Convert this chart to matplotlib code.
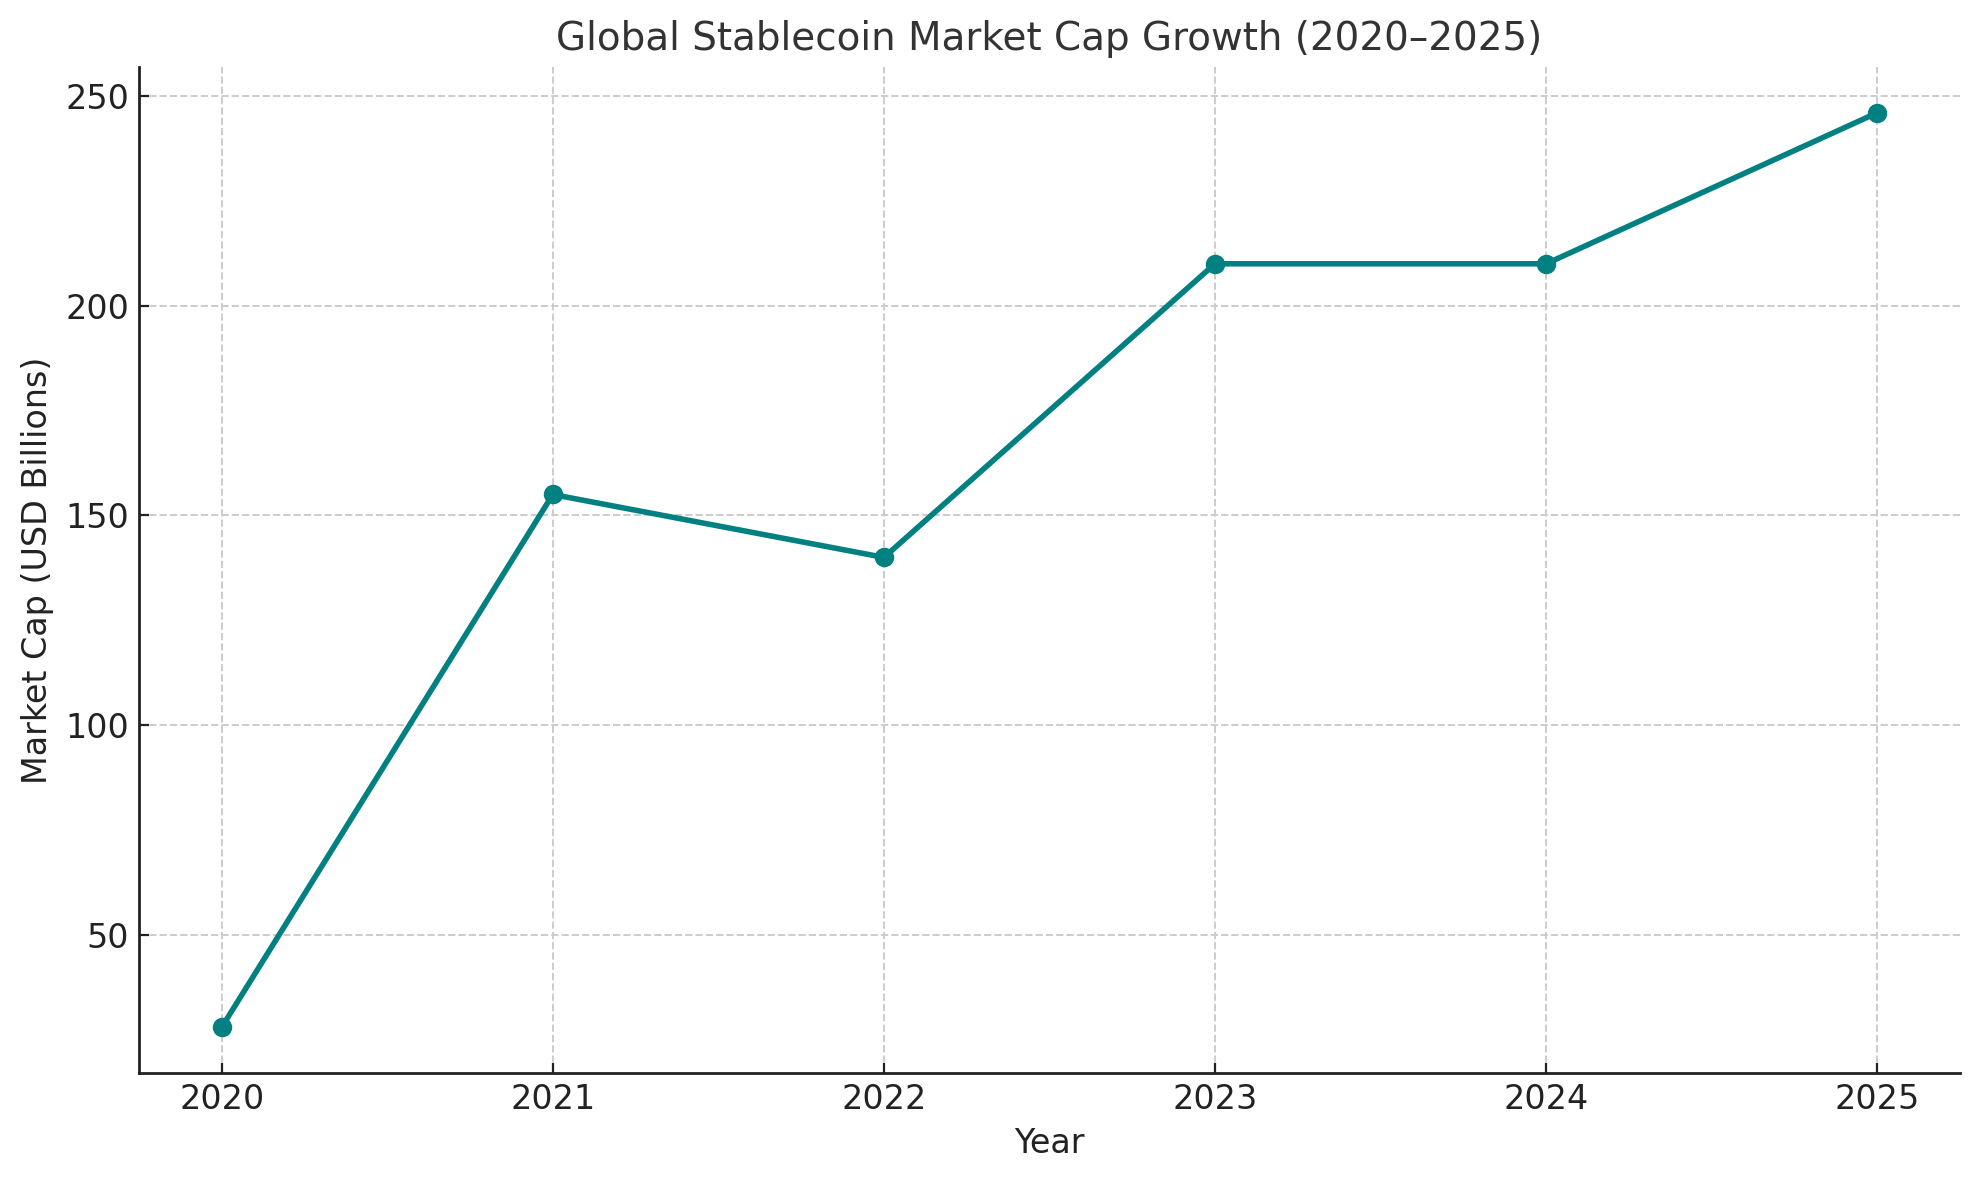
import matplotlib
matplotlib.use("Agg")
import matplotlib.pyplot as plt

years = [2020, 2021, 2022, 2023, 2024, 2025]
market_cap = [28, 155, 140, 210, 210, 246]

fig = plt.figure(figsize=(9.895, 5.9), dpi=200)
ax = fig.add_axes([0.0702, 0.0907, 0.9202, 0.8525])

ax.plot(years, market_cap, color="#008080", linewidth=2, marker="o", markersize=6)

ax.set_title("Global Stablecoin Market Cap Growth (2020\u20132025)", fontsize=14, color="#333333")
ax.set_xlabel("Year", fontsize=12, color="#222222")
ax.set_ylabel("Market Cap (USD Billions)", fontsize=12, color="#222222")
ax.set_xticks(years)
ax.tick_params(labelsize=12, colors="#222222", direction="in")

ax.grid(True, linestyle="--", color="#cccccc", linewidth=0.7)
ax.set_axisbelow(True)
for side in ("top", "right"):
    ax.spines[side].set_visible(False)
for side in ("left", "bottom"):
    ax.spines[side].set_color("#222222")
    ax.spines[side].set_linewidth(1.0)

fig.savefig("out.png", dpi=200)
